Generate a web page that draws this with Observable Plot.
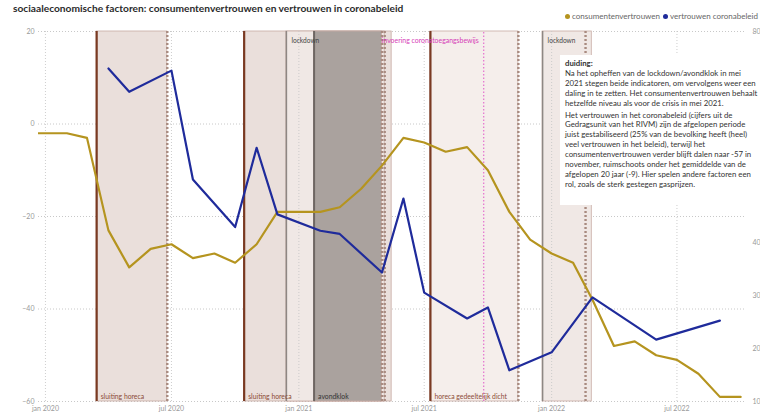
<!DOCTYPE html>
<html><head><meta charset="utf-8">
<script src="https://cdn.jsdelivr.net/npm/d3@7"></script>
<script src="https://cdn.jsdelivr.net/npm/@observablehq/plot@0.6"></script>
<style>
body{margin:0;background:#fff;font-family:Lato,"Open Sans",sans-serif;}
#wrap{position:relative;width:760px;height:418px;overflow:hidden}
#head{position:relative;height:24px}
#title{position:absolute;left:13px;top:2px;font-weight:700;font-size:10.2px;color:#2b2b2b;white-space:nowrap}
#legend{position:absolute;left:565px;top:11px;font-size:8px;color:#666;display:flex;align-items:center;white-space:nowrap}
#legend .dot{width:5px;height:5px;border-radius:50%;display:inline-block;margin-right:2px}
#legend .item{display:flex;align-items:center;margin-right:3px}
#note{position:absolute;left:560px;top:55px;width:200px;height:150px;background:#fff;font-size:7.8px;line-height:9.9px;color:#333;padding:4px 0 0 5px;box-sizing:border-box;white-space:nowrap;overflow:hidden}
#note p{margin:0 0 2px 0}
#plot svg{display:block}
</style></head>
<body>
<div id="wrap">
  <div id="head"><div id="title"></div><div id="legend"></div></div>
  <div id="plot"></div>
  <div id="note"></div>
</div>
<script>
const titleText = "sociaaleconomische factoren: consumentenvertrouwen en vertrouwen in coronabeleid";
const seriesNames = ["consumentenvertrouwen", "vertrouwen coronabeleid"];
const seriesColors = ["#b5941f", "#1f2b9b"];

// consumentenvertrouwen (linker as), maandelijks
const months = ["2019-12","2020-01","2020-02","2020-03","2020-04","2020-05","2020-06","2020-07","2020-08","2020-09","2020-10","2020-11","2020-12",
  "2021-01","2021-02","2021-03","2021-04","2021-05","2021-06","2021-07","2021-08","2021-09","2021-10","2021-11","2021-12",
  "2022-01","2022-02","2022-03","2022-04","2022-05","2022-06","2022-07","2022-08","2022-09","2022-10"];
const consumentenvertrouwen = [-2,-2,-2,-3,-23,-31,-27,-26,-29,-28,-30,-26,-19,
  -19,-19,-18,-14,-9,-3,-4,-6,-5,-10,-19,-25,
  -28,-30,-38,-48,-47,-50,-51,-54,-59,-59];

// vertrouwen coronabeleid (rechter as, %)
const peildata = ["2020-04","2020-05","2020-07","2020-08","2020-10","2020-11","2020-12","2021-02","2021-03","2021-05","2021-06","2021-07","2021-09","2021-10","2021-11","2022-01","2022-03","2022-06","2022-09"];
const vertrouwenCoronabeleid = [73,68.6,72.6,52,43,58,45.4,42.3,41.7,34.4,48.4,30.6,25.7,27.8,15.9,19.3,29.7,21.7,25.3];

const xTicks = ["2020-01-01","2020-07-01","2021-01-01","2021-07-01","2022-01-01","2022-07-01"];
const xTickLabels = ["jan 2020","jul 2020","jan 2021","jul 2021","jan 2022","jul 2022"];
const yTicksLeft = [-60,-40,-20,0,20];
// rechter as: 50, 60 en 70 vallen achter het tekstvak
const yTicksRight = [10,20,30,40,80];

// maatregelen
const bandLabels = ["sluiting horeca","sluiting horeca","lockdown","avondklok","horeca gedeeltelijk dicht","lockdown"];
const bandKinds  = ["horeca","horeca","lockdown","avondklok","horeca2","lockdown"];
const bandStart  = ["2020-03-15","2020-10-14","2020-12-14","2021-01-23","2021-07-10","2021-12-19"];
const bandEnd    = ["2020-06-25","2021-05-15","2021-05-05","2021-05-01","2021-11-14","2022-02-28"];
const endMarkers = ["2020-06-25","2021-05-01","2021-05-05","2021-11-14","2022-02-19"];
const qrDate = "2021-09-25";
const qrLabel = "invoering coronatoegangsbewijs";

const noteParas = [
  ["Na het opheffen van de lockdown/avondklok in mei",
   "2021 stegen beide indicatoren, om vervolgens weer een",
   "daling in te zetten. Het consumentenvertrouwen behaalt",
   "hetzelfde niveau als voor de crisis in mei 2021."],
  ["Het vertrouwen in het coronabeleid (cijfers uit de",
   "Gedragsunit van het RIVM) zijn de afgelopen periode",
   "juist gestabiliseerd (25% van de bevolking heeft (heel)",
   "veel vertrouwen in het beleid), terwijl het",
   "consumentenvertrouwen verder blijft dalen naar -57 in",
   "november, ruimschoots onder het gemiddelde van de",
   "afgelopen 20 jaar (-9). Hier spelen andere factoren een",
   "rol, zoals de sterk gestegen gasprijzen."]
];

// ---- build ----
const parse = d3.utcParse("%Y-%m-%d");
const toLeft = v => (v - 10) * 80 / 70 - 60;
const fromLeft = d => Math.round((d + 60) * 70 / 80 + 10);

document.getElementById("title").textContent = titleText;
const leg = document.getElementById("legend");
seriesNames.forEach((n,i)=>{
  const it = document.createElement("span"); it.className="item";
  const dot = document.createElement("span"); dot.className="dot"; dot.style.background = seriesColors[i];
  it.appendChild(dot); it.appendChild(document.createTextNode(n)); leg.appendChild(it);
});
const note = document.getElementById("note");
const h = document.createElement("p"); h.innerHTML = "<b>duiding:</b>"; h.style.marginBottom="0"; note.appendChild(h);
noteParas.forEach(lines=>{ const p=document.createElement("p"); p.innerHTML = lines.join("<br>"); note.appendChild(p); });

const gold = months.map((m,i)=>({date: parse(m+"-01"), value: consumentenvertrouwen[i]}));
const blue = peildata.map((m,i)=>({date: parse(m+"-01"), value: toLeft(vertrouwenCoronabeleid[i])}));
const bands = bandLabels.map((l,i)=>({label:l, kind:bandKinds[i], x1:parse(bandStart[i]), x2:parse(bandEnd[i])}));
const fills = {horeca:"#eadfdb", lockdown:"#f0e8e5", avondklok:"#aaa29e", horeca2:"#f5eeeb"};
const startStroke = {horeca:"#7a3a22", horeca2:"#7a3a22", lockdown:"#8e8783", avondklok:"#6e6763"};
const startWidth = {horeca:2.2, horeca2:2.2, lockdown:1.5, avondklok:2};
const labelColor = {horeca:"#8b4a36", horeca2:"#8b4a36", lockdown:"#444", avondklok:"#333"};
const tickLabel = d => xTickLabels[xTicks.indexOf(d3.utcFormat("%Y-%m-%d")(d))];

const bottomBands = bands.filter(b => b.kind !== "lockdown");
const topBands = bands.filter(b => b.kind === "lockdown");

const chart = Plot.plot({
  width: 760, height: 394,
  marginTop: 7, marginBottom: 17, marginLeft: 38, marginRight: 15,
  style: {fontFamily: "Lato, 'Open Sans', sans-serif", background: "#fff"},
  x: {type: "utc", domain: [parse("2019-12-22"), parse("2022-10-08")]},
  y: {domain: [-60, 20]},
  marks: [
    Plot.gridY(yTicksLeft, {stroke:"#c8c8c8", strokeOpacity:1, strokeDasharray:"1,2"}),
    Plot.rect(bands, {x1:"x1", x2:"x2", y1:-60, y2:20, fill: d => fills[d.kind], stroke:"#c7aba3", strokeWidth:0.8}),
    Plot.gridX(xTicks.map(parse), {stroke:"#c8c8c8", strokeOpacity:0.9, strokeDasharray:"1,2"}),
    Plot.ruleX(bands, {x:"x1", y1:-60, y2:20, stroke: d => startStroke[d.kind], strokeWidth: d => startWidth[d.kind]}),
    Plot.ruleX(endMarkers.map(parse), {y1:-60, y2:20, stroke:"#a98b80", strokeWidth:2.4, strokeDasharray:"2,2"}),
    Plot.ruleX([parse(qrDate)], {y1:-60, y2:20, stroke:"#e056c8", strokeWidth:1, strokeDasharray:"1.5,2"}),
    Plot.text(bottomBands, {x:"x1", y:-60, text:"label", textAnchor:"start", dx:4, dy:-5, fontSize:6.8, fill: d => labelColor[d.kind]}),
    Plot.text(topBands, {x:"x1", y:20, text:"label", textAnchor:"start", dx:5, dy:9, fontSize:6.6, fill: d => labelColor[d.kind]}),
    Plot.text([qrLabel], {x: parse(qrDate), y:20, text: d => d, textAnchor:"end", dx:-5, dy:9, fontSize:6.9, fill:"#d63db8"}),
    Plot.line(gold, {x:"date", y:"value", stroke: seriesColors[0], strokeWidth:2.2, clip:true}),
    Plot.line(blue, {x:"date", y:"value", stroke: seriesColors[1], strokeWidth:2.2}),
    Plot.axisY(yTicksLeft, {anchor:"left", tickSize:0, tickPadding:4, color:"#999", fontSize:7, label:null}),
    Plot.axisY(yTicksRight.map(toLeft), {anchor:"right", tickSize:0, tickPadding:7, color:"#999", fontSize:7, label:null, tickFormat: fromLeft}),
    Plot.axisX(xTicks.map(parse), {tickSize:0, tickPadding:5, color:"#999", fontSize:7, label:null, tickFormat: tickLabel})
  ]
});
document.getElementById("plot").appendChild(chart);
</script>
</body></html>
